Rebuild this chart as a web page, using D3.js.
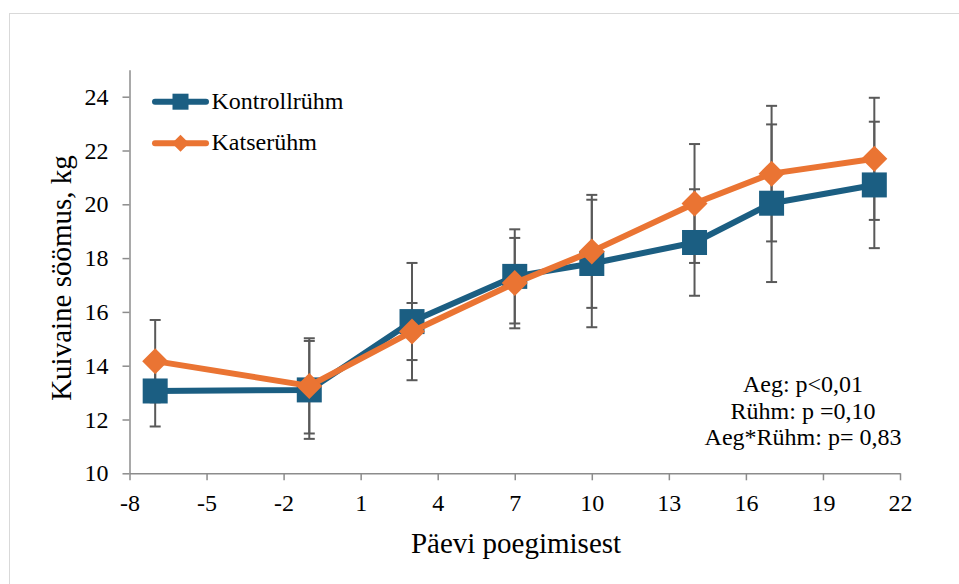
<!DOCTYPE html>
<html>
<head>
<meta charset="utf-8">
<script src="https://cdn.jsdelivr.net/npm/d3@7"></script>
<style>
  body { margin: 0; background: #fff; }
</style>
</head>
<body>
<div id="chart"></div>
<script>
// days relative to calving
var days = [-7, -1, 3, 7, 10, 14, 17, 21];
var kontroll = [13.06, 13.10, 15.64, 17.32, 17.80, 18.58, 20.04, 20.72];
var kontrollSd = [1.32, 1.82, 2.18, 1.75, 2.37, 1.98, 2.93, 2.35];
var katse = [14.17, 13.25, 15.27, 17.07, 18.25, 20.03, 21.14, 21.69];
var katseSd = [1.53, 1.77, 1.06, 1.68, 2.10, 2.21, 2.52, 2.27];
var xTicks = [-8, -5, -2, 1, 4, 7, 10, 13, 16, 19, 22];
var yTicks = [10, 12, 14, 16, 18, 20, 22, 24];
var seriesNames = ["Kontrollrühm", "Katserühm"];
var notes = ["Aeg: p<0,01", "Rühm: p =0,10", "Aeg*Rühm: p= 0,83"];

var W = 959, H = 584;
var blue = "#1b5e82", orange = "#ea7433", barCol = "#595959", axisCol = "#8c8c8c";
var FONT = "Liberation Serif, Times New Roman, DejaVu Serif, serif";

var svg = d3.select("#chart").append("svg")
	.attr("width", W)
	.attr("height", H)
	.attr("font-family", FONT);

svg.append("rect").attr("x", 0).attr("y", 0).attr("width", W).attr("height", H).attr("fill", "#fff");
// chart area border
svg.append("rect")
	.attr("x", 9.5).attr("y", 13.5)
	.attr("width", 1000).attr("height", 700)
	.attr("fill", "none").attr("stroke", "#d9d9d9");

var x = d3.scaleLinear().domain([-8, 22]).range([129.5, 900]);
var y = d3.scaleLinear().domain([10, 25]).range([473.3, 69.8]);

var yAxis = svg.append("g")
	.attr("transform", "translate(129.5,0)")
	.call(d3.axisLeft(y).tickValues(yTicks).tickSize(7).tickSizeOuter(0).tickPadding(14));
var xAxis = svg.append("g")
	.attr("transform", "translate(0,473.3)")
	.call(d3.axisBottom(x).tickValues(xTicks).tickFormat(function (d) { return String(d); })
		.tickSize(7).tickSizeOuter(0).tickPadding(14));

[xAxis, yAxis].forEach(function (g) {
	g.attr("font-family", FONT).attr("font-size", 24);
	g.select(".domain").attr("stroke", axisCol).attr("stroke-width", 1.5);
	g.selectAll(".tick line").attr("stroke", axisCol).attr("stroke-width", 1.5);
	g.selectAll(".tick text").attr("fill", "#000");
});

// axis titles
svg.append("text")
	.attr("transform", "translate(71,278) rotate(-90)")
	.attr("text-anchor", "middle")
	.attr("font-size", 29)
	.text("Kuivaine söömus, kg");
svg.append("text")
	.attr("x", 516).attr("y", 553)
	.attr("text-anchor", "middle")
	.attr("font-size", 29)
	.text("Päevi poegimisest");

var series = [
	{ name: seriesNames[0], vals: kontroll, sd: kontrollSd, color: blue, shape: "square" },
	{ name: seriesNames[1], vals: katse, sd: katseSd, color: orange, shape: "diamond" }
];

function rows(s) {
	return days.map(function (d, i) { return { d: d, v: s.vals[i], sd: s.sd[i] }; });
}

// error bars
series.forEach(function (s) {
	var g = svg.append("g");
	rows(s).forEach(function (r) {
		var cx = x(r.d), y1 = y(r.v + r.sd), y2 = y(r.v - r.sd);
		g.append("line").attr("x1", cx).attr("x2", cx).attr("y1", y1).attr("y2", y2)
			.attr("stroke", barCol).attr("stroke-width", 2);
		[y1, y2].forEach(function (yy) {
			g.append("line").attr("x1", cx - 5.5).attr("x2", cx + 5.5).attr("y1", yy).attr("y2", yy)
				.attr("stroke", barCol).attr("stroke-width", 2);
		});
	});
});

var line = d3.line().x(function (r) { return x(r.d); }).y(function (r) { return y(r.v); });

function marker(g, s, cx, cy, big) {
	if (s.shape === "square") {
		var h = big ? 12.5 : 8;
		g.append("rect").attr("x", cx - h).attr("y", cy - h).attr("width", 2 * h).attr("height", 2 * h)
			.attr("fill", s.color);
	} else {
		var r = big ? 13 : 8.5;
		g.append("path")
			.attr("d", "M" + cx + "," + (cy - r) + "L" + (cx + r) + "," + cy + "L" + cx + "," + (cy + r) + "L" + (cx - r) + "," + cy + "Z")
			.attr("fill", s.color);
	}
}

series.forEach(function (s) {
	var g = svg.append("g");
	g.append("path")
		.datum(rows(s))
		.attr("d", line)
		.attr("fill", "none")
		.attr("stroke", s.color)
		.attr("stroke-width", 6)
		.attr("stroke-linejoin", "round");
	rows(s).forEach(function (r) { marker(g, s, x(r.d), y(r.v), true); });
});

// legend
series.forEach(function (s, i) {
	var ly = 101.7 + i * 41.6;
	var g = svg.append("g");
	g.append("line").attr("x1", 155).attr("x2", 206).attr("y1", ly).attr("y2", ly)
		.attr("stroke", s.color).attr("stroke-width", 6).attr("stroke-linecap", "round");
	marker(g, s, 180.5, ly, false);
	g.append("text").attr("x", 211.5).attr("y", ly + 7)
		.attr("font-size", 24)
		.text(s.name);
});

// statistics note
notes.forEach(function (t, i) {
	svg.append("text")
		.attr("x", 803).attr("y", 392 + i * 26.7)
		.attr("text-anchor", "middle")
		.attr("font-size", 24)
		.text(t);
});
</script>
</body>
</html>
